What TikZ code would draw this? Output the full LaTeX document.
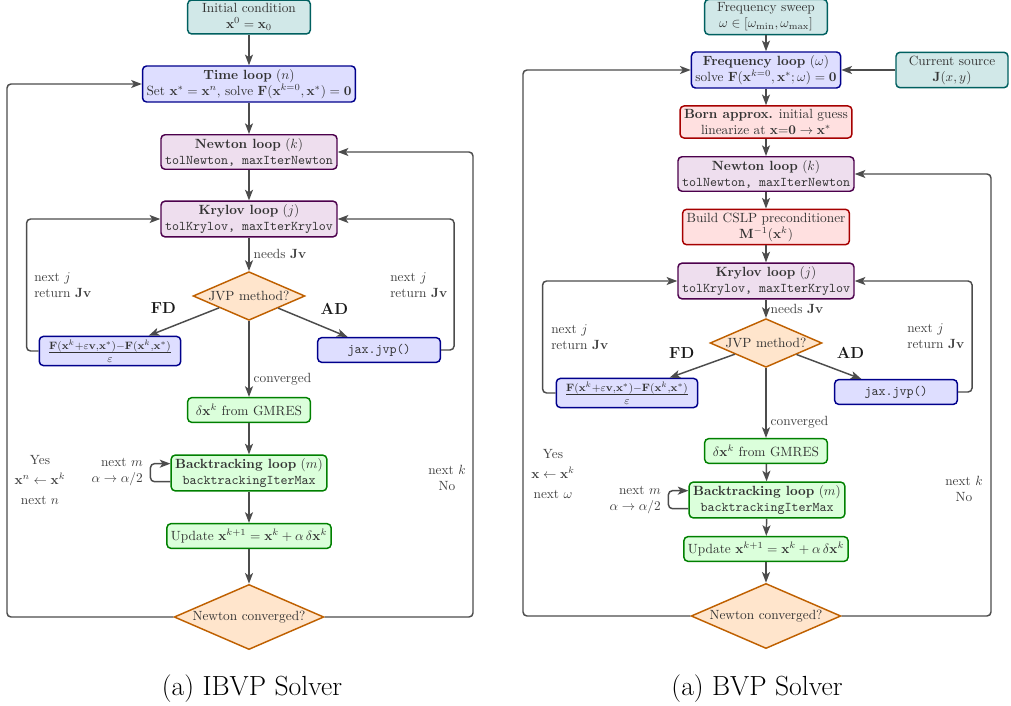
\documentclass[tikz,border=0pt]{standalone}
\usepackage{amsmath}
\usetikzlibrary{arrows.meta}
\usetikzlibrary{shapes.geometric}

\tikzset{
 box/.style={rectangle, rounded corners=3pt, draw, line width=1.1pt, align=center, inner xsep=3pt, inner ysep=2.5pt, minimum width=92pt, minimum height=18.5pt, text=black!80},
 srcbox/.style={box, fill=teal!18, draw=teal!75!black},
 loopbox/.style={box, fill=blue!13, draw=blue!55!black},
 iterbox/.style={box, fill=violet!13, draw=violet!60!black},
 prebox/.style={box, fill=red!12, draw=red!65!black},
 stepbox/.style={box, fill=green!14, draw=green!50!black},
 decision/.style={diamond, aspect=2.3, inner sep=1pt, draw=orange!75!black, fill=orange!20, line width=1.1pt, text=black!80},
 flow/.style={draw=black!70, line width=1.1pt, rounded corners=3pt, -{Stealth[length=8pt, width=6pt, inset=2pt]}},
 lbl/.style={text=black!75, inner sep=0pt},
 pick/.style={font=\large\bfseries, text=black!90},
}

\begin{document}
\begin{tikzpicture}[x=0.75pt, y=-0.75pt]
\useasboundingbox (0,0) rectangle (1011,706);

% IBVP solver
\node[srcbox] (init) at (249,17) {Initial condition\\$\mathbf{x}^0=\mathbf{x}_0$};
\node[loopbox] (time) at (249,84) {\textbf{Time loop} $(n)$\\Set $\mathbf{x}^*=\mathbf{x}^n$, solve $\mathbf{F}(\mathbf{x}^{k=0},\mathbf{x}^*)=\mathbf{0}$};
\node[iterbox] (newtL) at (249,152) {\textbf{Newton loop} $(k)$\\\texttt{tolNewton, maxIterNewton}};
\node[iterbox] (krylL) at (249,219) {\textbf{Krylov loop} $(j)$\\\texttt{tolKrylov, maxIterKrylov}};
\node[decision] (jvpL) at (249,296) {JVP method?};
\node[loopbox, minimum width=106pt, font=\large] (fdL) at (110,351) {$\frac{\mathbf{F}(\mathbf{x}^k+\varepsilon\mathbf{v},\mathbf{x}^*)-\mathbf{F}(\mathbf{x}^k,\mathbf{x}^*)}{\varepsilon}$};
\node[loopbox] (adL) at (379,350) {\texttt{jax.jvp()}};
\node[stepbox] (gmresL) at (249,410) {$\delta\mathbf{x}^k$ from GMRES};
\node[stepbox] (btL) at (249,473) {\textbf{Backtracking loop} $(m)$\\\texttt{backtrackingIterMax}};
\node[stepbox] (updL) at (249,536) {Update $\mathbf{x}^{k+1}=\mathbf{x}^k+\alpha\,\delta\mathbf{x}^k$};
\node[decision] (convL) at (249,617) {Newton converged?};

\node[lbl, anchor=west, align=left] (retL1) at (34,285) {next $j$\\return $\mathbf{Jv}$};
\node[lbl, anchor=west, align=left] (retL2) at (390,285) {next $j$\\return $\mathbf{Jv}$};
\node[lbl, anchor=east, align=right] (halfL) at (143,472) {next $m$\\$\alpha\to\alpha/2$};
\node[lbl, align=center] (yesL) at (40,480) {Yes\\[3pt]$\mathbf{x}^n\leftarrow\mathbf{x}^k$\\[3pt]next $n$};
\node[lbl, align=center] (noL) at (447,478) {next $k$\\No};

\draw[flow] (init) -- (time);
\draw[flow] (time) -- (newtL);
\draw[flow] (newtL) -- (krylL);
\draw[flow] (krylL) -- node[lbl, right, xshift=3pt] {needs $\mathbf{Jv}$} (jvpL);
\draw[flow] (jvpL) -- node[pick, above left=2pt] {FD} (fdL);
\draw[flow] (jvpL) -- node[pick, above right=2pt] {AD} (adL);
\draw[flow] (jvpL) -- node[lbl, pos=0.77, right, xshift=3pt] {converged} (gmresL);
\draw[flow] (fdL.west) -- ++(-12,0) |- (krylL.west);
\draw[flow] (adL.east) -- ++(13,0) |- (krylL.east);
\draw[flow] (gmresL) -- (btL);
\draw[flow] ([yshift=-6.5pt]btL.west) -- ++(-20,0) |- ([yshift=7pt]btL.west);
\draw[flow] (btL) -- (updL);
\draw[flow] (updL) -- (convL);
\draw[flow] (convL.west) -| (7,84) -- (time.west);
\draw[flow] (convL.east) -| (473,152) -- (newtL.east);

\node[font=\huge] (capL) at (252,689) {(a) IBVP Solver};

% BVP solver
\node[srcbox] (sweep) at (766,17) {Frequency sweep\\$\omega\in[\omega_{\min},\omega_{\max}]$};
\node[loopbox] (freq) at (766,70) {\textbf{Frequency loop} $(\omega)$\\solve $\mathbf{F}(\mathbf{x}^{k=0},\mathbf{x}^*;\omega)=\mathbf{0}$};
\node[srcbox, minimum width=84pt] (src) at (952,70) {Current source\\$\mathbf{J}(x,y)$};
\node[prebox] (born) at (766,122) {\textbf{Born approx.} initial guess\\linearize at $\mathbf{x}{=}\mathbf{0}\to\mathbf{x}^*$};
\node[iterbox] (newtR) at (766,174) {\textbf{Newton loop} $(k)$\\\texttt{tolNewton, maxIterNewton}};
\node[prebox] (cslp) at (766,227) {Build CSLP preconditioner\\$\mathbf{M}^{-1}(\mathbf{x}^k)$};
\node[iterbox] (krylR) at (766,281) {\textbf{Krylov loop} $(j)$\\\texttt{tolKrylov, maxIterKrylov}};
\node[decision] (jvpR) at (766,343) {JVP method?};
\node[loopbox, minimum width=106pt, font=\large] (fdR) at (627,393) {$\frac{\mathbf{F}(\mathbf{x}^k+\varepsilon\mathbf{v},\mathbf{x}^*)-\mathbf{F}(\mathbf{x}^k,\mathbf{x}^*)}{\varepsilon}$};
\node[loopbox] (adR) at (896,392) {\texttt{jax.jvp()}};
\node[stepbox] (gmresR) at (766,451) {$\delta\mathbf{x}^k$ from GMRES};
\node[stepbox] (btR) at (767,500) {\textbf{Backtracking loop} $(m)$\\\texttt{backtrackingIterMax}};
\node[stepbox] (updR) at (766,549) {Update $\mathbf{x}^{k+1}=\mathbf{x}^k+\alpha\,\delta\mathbf{x}^k$};
\node[decision] (convR) at (766,616) {Newton converged?};

\node[lbl, anchor=west, align=left] (retR1) at (551,337) {next $j$\\return $\mathbf{Jv}$};
\node[lbl, anchor=west, align=left] (retR2) at (907,336) {next $j$\\return $\mathbf{Jv}$};
\node[lbl, anchor=east, align=right] (halfR) at (661,500) {next $m$\\$\alpha\to\alpha/2$};
\node[lbl, align=center] (yesR) at (553,474) {Yes\\[3pt]$\mathbf{x}\leftarrow\mathbf{x}^k$\\[3pt]next $\omega$};
\node[lbl, align=center] (noR) at (964,489) {next $k$\\No};

\draw[flow] (sweep) -- (freq);
\draw[flow] (src) -- (freq);
\draw[flow] (freq) -- (born);
\draw[flow] (born) -- (newtR);
\draw[flow] (newtR) -- (cslp);
\draw[flow] (cslp) -- (krylR);
\draw[flow] (krylR) -- node[lbl, right, xshift=3pt] {needs $\mathbf{Jv}$} (jvpR);
\draw[flow] (jvpR) -- node[pick, above left=2pt] {FD} (fdR);
\draw[flow] (jvpR) -- node[pick, above right=2pt] {AD} (adR);
\draw[flow] (jvpR) -- node[lbl, pos=0.77, right, xshift=3pt] {converged} (gmresR);
\draw[flow] (fdR.west) -- ++(-13,0) |- (krylR.west);
\draw[flow] (adR.east) -- ++(14,0) |- (krylR.east);
\draw[flow] (gmresR) -- (btR);
\draw[flow] ([yshift=-6.5pt]btR.west) -- ++(-20,0) |- ([yshift=7pt]btR.west);
\draw[flow] (btR) -- (updR);
\draw[flow] (updR) -- (convR);
\draw[flow] (convR.west) -| (523,70) -- (freq.west);
\draw[flow] (convR.east) -| (991,174) -- (newtR.east);

\node[font=\huge] (capR) at (757,689) {(a) BVP Solver};

\end{tikzpicture}
\end{document}
